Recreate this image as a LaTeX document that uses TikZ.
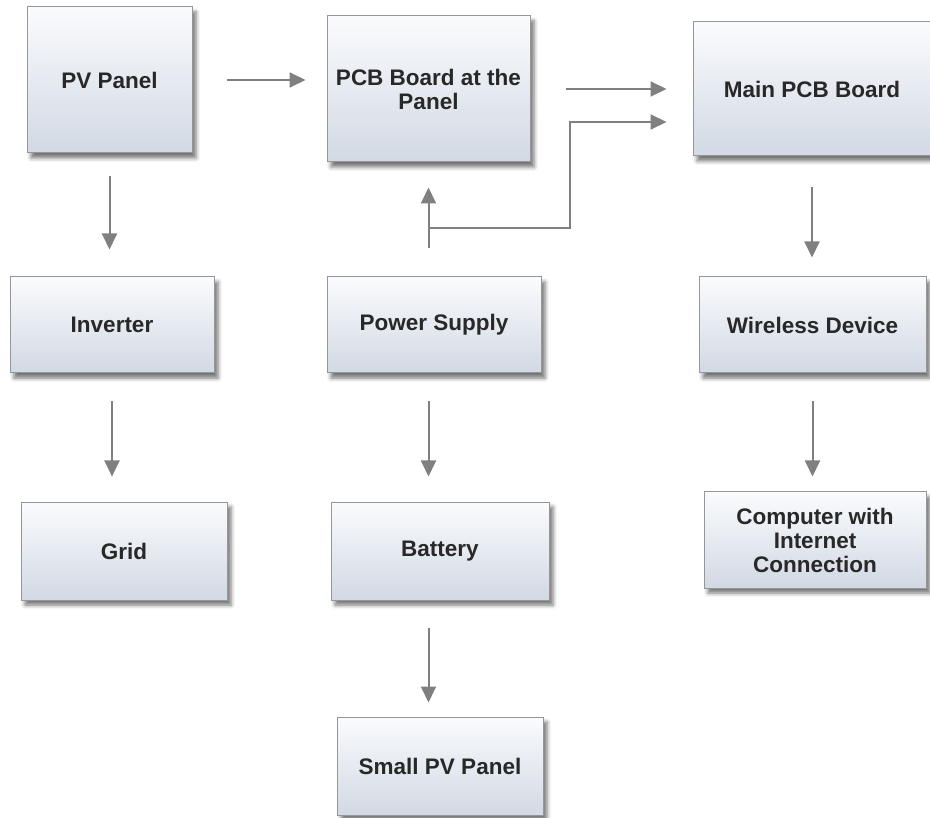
\documentclass[tikz,border=0pt]{standalone}
\usepackage{fontspec}
\setmainfont{Liberation Sans}
\usetikzlibrary{arrows.meta,shadows.blur}
\definecolor{boxtop}{RGB}{250,251,253}
\definecolor{boxbot}{RGB}{210,217,228}
\definecolor{boxline}{RGB}{150,150,150}
\definecolor{arrcol}{RGB}{128,128,128}
\definecolor{txt}{RGB}{40,40,40}
\tikzset{
  blk/.style={draw=boxline, line width=1pt, top color=boxtop, bottom color=boxbot,
    inner sep=0pt, align=center, text=txt,
    font=\fontsize{22.5}{24}\selectfont\bfseries,
    blur shadow={shadow xshift=4pt, shadow yshift=-5pt, shadow blur radius=4pt, shadow opacity=55}},
  arr/.style={draw=arrcol, line width=2pt, -{Triangle[length=16pt,width=15pt]}}
}
\begin{document}
\begin{tikzpicture}[x=1pt,y=-1pt]
\useasboundingbox (0,0) rectangle (930,818);
% boxes
\node[blk, minimum width=165pt, minimum height=146pt] (pv)   at (109.5,80)  {PV Panel};
\node[blk, minimum width=203pt, minimum height=146pt] (pcb)  at (428.5,89)  {PCB Board at the\\Panel};
\node[blk, minimum width=240pt, minimum height=134pt] (main) at (813,89)    {};
\node[font=\fontsize{22.5}{24}\selectfont\bfseries, text=txt] (maintxt) at (812,89) {Main PCB Board};
\node[blk, minimum width=204pt, minimum height=96pt]  (inv)  at (112,325)   {Inverter};
\node[blk, minimum width=206pt, minimum height=98pt]  (grid) at (124,551)   {Grid};
\node[blk, minimum width=214pt, minimum height=96pt]  (ps)   at (434,325)   {Power Supply};
\node[blk, minimum width=218pt, minimum height=98pt]  (bat)  at (440,551)   {Battery};
\node[blk, minimum width=206pt, minimum height=98pt]  (small) at (440,766)  {Small PV Panel};
\node[blk, minimum width=227pt, minimum height=96pt]  (wd)   at (812.5,325) {Wireless Device};
\node[blk, minimum width=222pt, minimum height=96pt]  (comp) at (815,540)   {Computer with\\Internet\\Connection};
% connectors
\draw[arr, shorten <=34pt, shorten >=21pt] (pv.east) -- (pv.east -| pcb.west);
\draw[arr, shorten <=35pt, shorten >=26pt] (pcb.east) -- (main.west);
\draw[arr, shorten <=28pt, shorten >=25pt] (ps.north -| pcb.south) -- (pcb.south);
\coordinate (br) at (428.5,228);
\coordinate (bend) at (570,228);
\draw[arr, shorten >=26pt] (br) -- (bend) |- ([yshift=-33pt]main.west);
\draw[arr, shorten <=23pt, shorten >=27pt] (pv.south) -- (pv.south |- inv.north);
\draw[arr, shorten <=28pt, shorten >=25pt] (inv.south) -- (inv.south |- grid.north);
\draw[arr, shorten <=28pt, shorten >=25pt] (ps.south -| pcb.south) -- (pcb.south |- bat.north);
\draw[arr, shorten <=27pt, shorten >=14pt] (bat.south -| pcb.south) -- (pcb.south |- small.north);
\draw[arr, shorten <=31pt, shorten >=19pt] (maintxt.center |- main.south) -- (maintxt.center |- wd.north);
\draw[arr, shorten <=28pt, shorten >=15pt] (wd.south) -- (wd.south |- comp.north);
\end{tikzpicture}
\end{document}
